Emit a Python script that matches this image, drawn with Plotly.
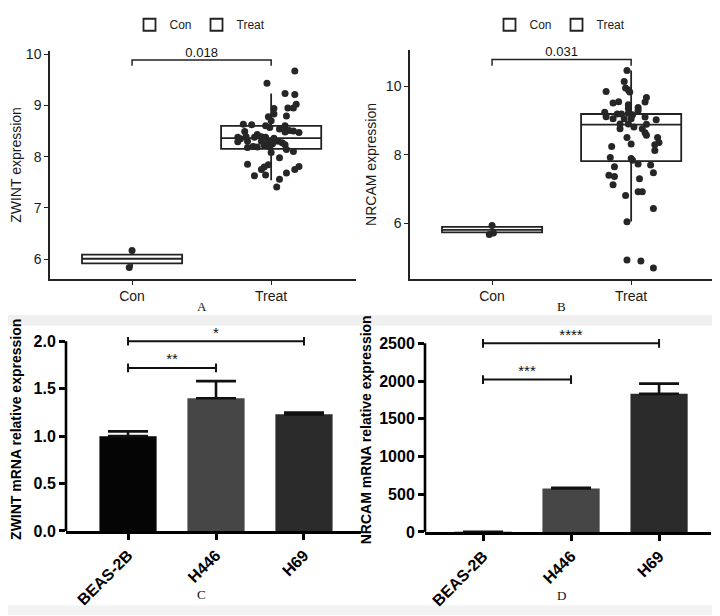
import plotly.graph_objects as go

W, H = 720, 616

# ---- panel A / B: boxplot data ----
groups = ["Con", "Treat"]

zwint_con = [6.17, 5.84]
zwint_con_jit = [0.0, -0.02]
zwint_treat = [9.67, 9.43, 9.23, 9.21, 9.02, 8.95, 8.95, 8.94, 8.83, 8.79, 8.78, 8.70,
               8.63, 8.62, 8.60, 8.57, 8.60, 8.54, 8.51, 8.48, 8.50, 8.47, 8.49, 8.43,
               8.39, 8.39, 8.38, 8.35, 8.38, 8.38, 8.36, 8.30, 8.29, 8.30, 8.29, 8.30,
               8.27, 8.22, 8.25, 8.20, 8.18, 8.19, 8.19, 8.23, 8.14, 8.10, 8.08, 7.98,
               7.85, 7.84, 7.80, 7.75, 7.81, 7.75, 7.63, 7.64, 7.68, 7.56, 7.41]
zwint_treat_jit = [0.17, -0.03, 0.10, 0.17, 0.18, 0.16, 0.12, 0.02, 0.02, 0.11, -0.02, 0.00,
                   -0.20, -0.14, -0.04, -0.01, 0.10, 0.06, 0.13, 0.10, 0.16, 0.20, -0.19, -0.10,
                   -0.07, -0.18, -0.24, -0.22, -0.12, -0.04, 0.02, -0.17, -0.24, -0.07, -0.02, 0.05,
                   0.08, -0.05, 0.01, -0.13, -0.17, -0.10, -0.01, 0.10, 0.11, 0.16, 0.00, 0.06,
                   -0.17, -0.02, -0.05, -0.07, 0.20, 0.17, -0.12, -0.04, 0.11, 0.06, 0.04]
# q1, median, q3, lower whisker, upper whisker
zwint_box = {"Con": [5.92, 6.01, 6.09, 5.84, 6.17], "Treat": [8.15, 8.36, 8.60, 7.54, 9.23]}

nrcam_con = [5.93, 5.67, 5.71]
nrcam_con_jit = [0.0, -0.02, 0.01]
nrcam_treat = [10.46, 10.14, 9.95, 9.89, 9.83, 9.85, 9.67, 9.54, 9.51, 9.55, 9.46, 9.35,
               9.38, 9.29, 9.24, 9.19, 9.19, 9.21, 9.17, 9.11, 9.05, 9.05, 9.05, 9.10,
               9.02, 8.90, 8.90, 8.81, 8.89, 8.76, 8.64, 8.57, 8.76, 8.50, 8.31, 8.50,
               8.36, 8.29, 8.12, 8.24, 7.92, 7.89, 7.84, 7.65, 7.73, 7.70, 7.47, 7.40,
               7.36, 7.12, 7.30, 6.92, 6.92, 6.81, 6.43, 6.04, 4.92, 4.89, 4.69]
nrcam_treat_jit = [-0.03, -0.05, -0.04, -0.02, -0.01, -0.18, 0.11, 0.10, -0.13, -0.09, -0.02, -0.02,
                   0.05, 0.05, -0.19, -0.10, -0.07, -0.02, 0.01, -0.18, -0.13, -0.05, 0.00, 0.10,
                   0.18, -0.08, -0.02, 0.02, 0.11, 0.08, 0.10, 0.11, -0.08, -0.03, 0.00, 0.19,
                   0.20, 0.17, 0.17, -0.14, -0.15, 0.00, 0.01, -0.12, 0.05, 0.14, 0.16, -0.16,
                   -0.12, -0.13, 0.06, 0.05, 0.08, -0.04, 0.16, -0.03, -0.03, 0.07, 0.16]
nrcam_box = {"Con": [5.73, 5.80, 5.89, 5.67, 5.93], "Treat": [7.81, 8.88, 9.19, 6.05, 10.46]}

p_zwint = "0.018"
p_nrcam = "0.031"

# ---- panel C / D: qPCR bars ----
cells = ["BEAS-2B", "H446", "H69"]
zwint_qpcr = [1.00, 1.40, 1.23]
zwint_qpcr_err = [0.05, 0.18, 0.02]
nrcam_qpcr = [1.0, 575, 1830]
nrcam_qpcr_err = [None, 10, 135]
bar_colors = ["#050505", "#464646", "#2b2b2b"]

# (from, to, height, label)
zwint_sig = [("BEAS-2B", "H446", 1.72, "**"), ("BEAS-2B", "H69", 2.0, "*")]
nrcam_sig = [("BEAS-2B", "H446", 2020, "***"), ("BEAS-2B", "H69", 2500, "****")]


def px_x(p):
    return p / W


def px_y(p):
    return 1 - p / H


fig = go.Figure()

DOT = "#262626"
LINE = "#222"


def add_box_panel(xa, ya, con, con_jit, treat, treat_jit, box, pval, bracket_y, cap_y, legend):
    for i, g in enumerate(groups):
        q1, med, q3, lo, hi = box[g]
        fig.add_trace(go.Box(
            x=[i], q1=[q1], median=[med], q3=[q3], lowerfence=[lo], upperfence=[hi],
            width=0.72, whiskerwidth=0, fillcolor="white",
            line=dict(color=LINE, width=1.8), name=g, legend=legend,
            xaxis=xa, yaxis=ya, hoverinfo="skip", boxpoints=False,
        ))
    for i, (vals, jit) in enumerate([(con, con_jit), (treat, treat_jit)]):
        fig.add_trace(go.Scatter(
            x=[i + j for j in jit], y=vals, mode="markers",
            marker=dict(color=DOT, size=7), showlegend=False,
            xaxis=xa, yaxis=ya, cliponaxis=False,
        ))
    fig.add_trace(go.Scatter(
        x=[0, 0, 1, 1], y=[cap_y, bracket_y, bracket_y, cap_y], mode="lines",
        line=dict(color=LINE, width=1.5), showlegend=False, xaxis=xa, yaxis=ya,
    ))
    fig.add_trace(go.Scatter(
        x=[0.5], y=[bracket_y], mode="text", text=[pval], textposition="top center",
        textfont=dict(size=13, color="#111", family="Liberation Sans"),
        showlegend=False, xaxis=xa, yaxis=ya, cliponaxis=False,
    ))


add_box_panel("x", "y", zwint_con, zwint_con_jit, zwint_treat, zwint_treat_jit,
              zwint_box, p_zwint, 9.886, 9.77, "legend")
add_box_panel("x2", "y2", nrcam_con, nrcam_con_jit, nrcam_treat, nrcam_treat_jit,
              nrcam_box, p_nrcam, 10.78, 10.60, "legend2")

pos = list(range(len(cells)))


def add_bar_panel(xa, ya, vals, errs, sig, cap_h):
    fig.add_trace(go.Bar(
        x=pos, y=vals, width=0.65, marker=dict(color=bar_colors, line=dict(width=0)),
        error_y=dict(type="data", array=errs, arrayminus=[0] * len(errs), symmetric=False,
                     color="#111", thickness=2.6, width=20),
        showlegend=False, xaxis=xa, yaxis=ya,
    ))
    for a, b, h, lab in sig:
        ia, ib = cells.index(a), cells.index(b)
        fig.add_trace(go.Scatter(
            x=[ia, ia, None, ia, ib, None, ib, ib],
            y=[h - cap_h, h + cap_h, None, h, h, None, h - cap_h, h + cap_h],
            mode="lines", line=dict(color="#111", width=2), showlegend=False,
            xaxis=xa, yaxis=ya, cliponaxis=False,
        ))
        fig.add_trace(go.Scatter(
            x=[(ia + ib) / 2], y=[h], mode="text", text=[lab], textposition="top center",
            textfont=dict(size=15, color="#111", family="Liberation Sans"),
            showlegend=False, xaxis=xa, yaxis=ya, cliponaxis=False,
        ))


add_bar_panel("x3", "y3", zwint_qpcr, zwint_qpcr_err, zwint_sig, 0.045)
add_bar_panel("x4", "y4", nrcam_qpcr, nrcam_qpcr_err, nrcam_sig, 58)

gg_font = dict(family="Liberation Sans", size=14, color="#1a1a1a")
gg_axis = dict(showline=True, linecolor="#222", linewidth=1.5, ticks="outside",
               ticklen=4, tickwidth=1.3, tickcolor="#222", showgrid=False,
               zeroline=False, tickfont=gg_font)
gp_font = dict(family="Liberation Sans", size=16, color="#000", weight="bold")
gp_axis = dict(showgrid=False, zeroline=False, ticks="outside", ticklen=6,
               tickwidth=2.5, tickcolor="#000", tickfont=gp_font)
gp_title_font = dict(family="Liberation Sans", size=14, color="#000", weight="bold")
leg_common = dict(orientation="h", xanchor="center", y=px_y(12), yanchor="middle",
                  font=dict(family="Liberation Sans", size=12, color="#222"),
                  itemwidth=30, tracegroupgap=0, bgcolor="rgba(0,0,0,0)")

fig.update_layout(
    width=W, height=H, margin=dict(l=0, r=0, t=0, b=0),
    paper_bgcolor="white", plot_bgcolor="white",
    xaxis=dict(domain=[px_x(42), px_x(348)], range=[-0.59, 1.61], anchor="y",
               tickvals=[0, 1], ticktext=groups, **gg_axis),
    yaxis=dict(domain=[px_y(272), px_y(39)], range=[5.619, 10.057], anchor="x",
               tickvals=[6, 7, 8, 9, 10],
               title=dict(text="ZWINT expression", font=gg_font, standoff=6), **gg_axis),
    xaxis2=dict(domain=[px_x(402), px_x(708)], range=[-0.59, 1.61], anchor="y2",
                tickvals=[0, 1], ticktext=groups, **gg_axis),
    yaxis2=dict(domain=[px_y(272), px_y(38)], range=[4.371, 11.057], anchor="x2",
                tickvals=[6, 8, 10],
                title=dict(text="NRCAM expression", font=gg_font, standoff=6), **gg_axis),
    xaxis3=dict(domain=[px_x(58), px_x(353)], range=[-0.705, 2.648], anchor="y3",
                tickvals=pos, ticktext=cells,
                showline=True, linecolor="#000", linewidth=2.6, tickangle=-45,
                **gp_axis),
    yaxis3=dict(domain=[px_y(530), px_y(322)], range=[0, 2.144], anchor="x3",
                tickvals=[0, 0.5, 1.0, 1.5, 2.0], tickformat=".1f", showline=False,
                title=dict(text="ZWINT mRNA relative expression", font=gp_title_font,
                           standoff=10),
                **gp_axis),
    xaxis4=dict(domain=[px_x(417), px_x(703)], range=[-0.659, 2.59], anchor="y4",
                tickvals=pos, ticktext=cells,
                showline=True, linecolor="#000", linewidth=2.6, tickangle=-45,
                **gp_axis),
    yaxis4=dict(domain=[px_y(531), px_y(322)], range=[0, 2707], anchor="x4",
                tickvals=[0, 500, 1000, 1500, 2000, 2500], showline=False,
                title=dict(text="NRCAM mRNA relative expression", font=gp_title_font,
                           standoff=4),
                **gp_axis),
    legend=dict(x=px_x(192), **leg_common),
    legend2=dict(x=px_x(552), **leg_common),
)

# GraphPad-style y axis lines stop at the last tick
fig.add_shape(type="line", xref="x3 domain", yref="y3", x0=0, x1=0, y0=0, y1=2.0,
              line=dict(color="#000", width=2.6))
fig.add_shape(type="line", xref="x4 domain", yref="y4", x0=0, x1=0, y0=0, y1=2500,
              line=dict(color="#000", width=2.6))

# faint scan bands
fig.add_shape(type="rect", xref="paper", yref="paper", x0=0, x1=1, y0=px_y(320), y1=px_y(309),
              fillcolor="#f0f0f0", line=dict(width=0), layer="below")
fig.add_shape(type="rect", xref="paper", yref="paper", x0=0, x1=1, y0=0, y1=px_y(606),
              fillcolor="#f3f3f3", line=dict(width=0), layer="below")

for lab, x, y in [("A", 187, 300), ("B", 560, 300), ("C", 187, 605), ("D", 560, 606)]:
    fig.add_annotation(text=lab, x=px_x(x), y=px_y(y), xref="paper", yref="paper",
                       showarrow=False, font=dict(family="Liberation Serif", size=13, color="#111"))

fig.write_html("out.html")
